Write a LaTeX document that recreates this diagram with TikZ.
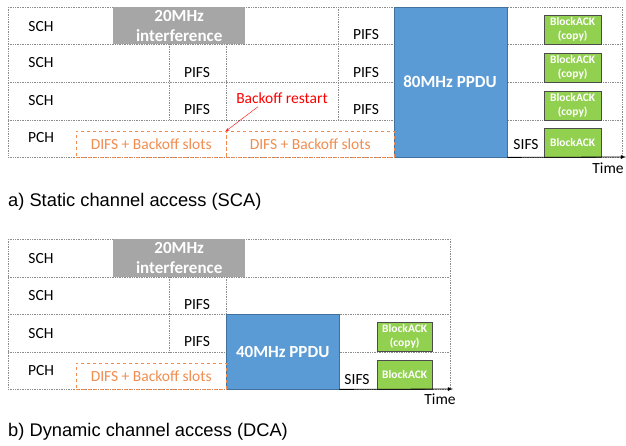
\documentclass[tikz,border=0pt]{standalone}
\usepackage{fontspec}
\setmainfont{Carlito}
\newfontfamily\capfont{Liberation Sans}
\usetikzlibrary{arrows}
\definecolor{ppdublue}{HTML}{5B9BD5}
\definecolor{ppduedge}{HTML}{41719C}
\definecolor{ackgreen}{HTML}{92D050}
\definecolor{intgray}{HTML}{A6A6A6}
\definecolor{difsorange}{RGB}{240,140,80}
\tikzstyle{grid}=[densely dotted,draw=black!45,line width=0.7pt]
\tikzstyle{chan}=[inner sep=0pt,font=\fontsize{15.5}{18}\selectfont]
\tikzstyle{interf}=[rectangle,fill=intgray,text=white,font=\bfseries\fontsize{17}{20}\selectfont,align=center,inner sep=0pt,minimum width=132pt,minimum height=37pt,anchor=north west]
\tikzstyle{ppdu}=[rectangle,draw=ppduedge,fill=ppdublue,text=white,font=\bfseries\fontsize{17}{20}\selectfont,inner sep=0pt,minimum width=113pt,anchor=north west]
\tikzstyle{ack}=[rectangle,draw=black!70,fill=ackgreen,text=white,font=\bfseries\fontsize{11.5}{14}\selectfont,align=center,inner sep=0pt,minimum width=57pt,minimum height=29pt,anchor=north west]
\tikzstyle{backoff}=[rectangle,dashed,draw=difsorange,text=difsorange,font=\fontsize{15.5}{18}\selectfont,inner sep=0pt,minimum height=26pt,anchor=north west]
\tikzstyle{timeaxis}=[->,>=latex,line width=0.8pt]
\tikzstyle{pointer}=[->,>=stealth,red]
\tikzstyle{caption}=[anchor=west,inner sep=0pt,font=\capfont\fontsize{18.3}{21}\selectfont]

\begin{document}
\begin{tikzpicture}[x=1pt,y=-1pt]
\useasboundingbox (0,0) rectangle (626,446);
% a) static channel access
\foreach \y in {7,44,82,120,157}
  \draw [grid] (8,\y) -- (622,\y);
\draw [grid] (8,7) -- (8,157);
\draw [grid] (622,7) -- (622,157);
\draw [grid] (169,44) -- (169,120);
\draw [grid] (226,44) -- (226,120);
\draw [grid] (338,7) -- (338,120);
\node (intA)[interf] at (113,7) {20MHz\\interference};
\node (ppduA)[ppdu,minimum height=150pt] at (394,7) {};
\node (ppduAtext) at (450,82) [text=white,font=\bfseries\fontsize{17}{20}\selectfont] {80MHz PPDU};
\node (ackA1)[ack] at (544,15) {BlockACK\\(copy)};
\node (ackA2)[ack] at (544,53) {BlockACK\\(copy)};
\node (ackA3)[ack] at (544,91) {BlockACK\\(copy)};
\node (ackA4)[ack] at (544,128) {BlockACK};
\node (difsA1)[backoff,minimum width=150pt] at (76,131) {DIFS + Backoff slots};
\node (difsA2)[backoff,minimum width=168pt] at (226,131) {DIFS + Backoff slots};
\node (schA1)[chan] at (41,27) {SCH};
\node (schA2)[chan] at (41,63) {SCH};
\node (schA3)[chan] at (41,101) {SCH};
\node (pchA)[chan] at (41,138) {PCH};
\node (pifsA1)[chan] at (197,73) {PIFS};
\node (pifsA2)[chan] at (197,110) {PIFS};
\node (pifsA3)[chan] at (366,35) {PIFS};
\node (pifsA4)[chan] at (366,73) {PIFS};
\node (pifsA5)[chan] at (366,110) {PIFS};
\node (sifsA)[chan] at (526,145) {SIFS};
\node (restart)[chan,text=red] at (282,98) {Backoff restart};
\draw [pointer] (restart.south west) ++(22,3) coordinate (rs) (rs) -- (difsA2.north west);
\coordinate (endA) at (626,157);
\draw [timeaxis] (ppduA.south east) -- (endA);
\node (timeA)[chan] at (608,168) {Time};
\node (capA)[caption] at (8,202) {a) Static channel access (SCA)};
% b) dynamic channel access
\foreach \y in {239,277,314,352,389}
  \draw [grid] (8,\y) -- (450,\y);
\draw [grid] (8,239) -- (8,389);
\draw [grid] (450,239) -- (450,389);
\draw [grid] (169,277) -- (169,352);
\draw [grid] (226,277) -- (226,314);
\node (intB)[interf,minimum height=38pt] at (113,239) {20MHz\\interference};
\node (ppduB)[ppdu,minimum height=75pt] at (226,314) {40MHz PPDU};
\node (ackB1)[ack,minimum width=55pt] at (377,322) {BlockACK\\(copy)};
\node (ackB2)[ack,minimum width=55pt] at (377,360) {BlockACK};
\node (difsB)[backoff,minimum width=150pt] at (76,363) {DIFS + Backoff slots};
\node (schB1)[chan] at (41,259) {SCH};
\node (schB2)[chan] at (41,296) {SCH};
\node (schB3)[chan] at (41,334) {SCH};
\node (pchB)[chan] at (41,371) {PCH};
\node (pifsB1)[chan] at (197,305) {PIFS};
\node (pifsB2)[chan] at (197,342) {PIFS};
\node (sifsB)[chan] at (357,380) {SIFS};
\coordinate (endB) at (453,389);
\draw [timeaxis] (ppduB.south east) -- (endB);
\node (timeB)[chan] at (440,399) {Time};
\node (capB)[caption] at (8,432) {b) Dynamic channel access (DCA)};
\end{tikzpicture}
\end{document}
